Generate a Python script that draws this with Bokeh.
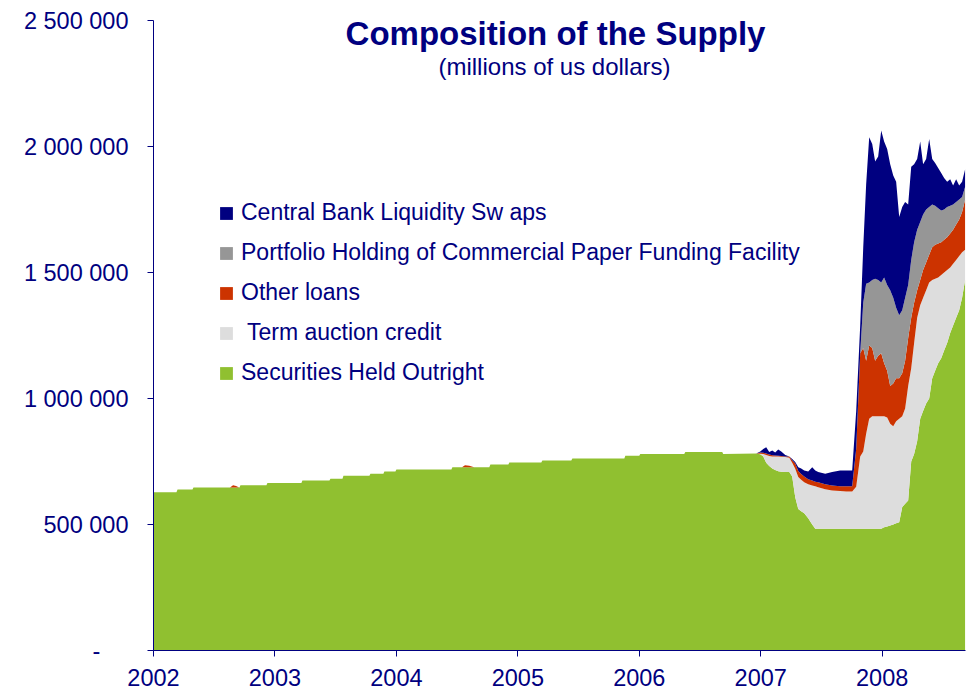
from bokeh.plotting import figure
from bokeh.models import ColumnDataSource, Legend, LegendItem, Label, FixedTicker, Range1d
from bokeh.embed import file_html
from bokeh.resources import INLINE

# ---- data (values in thousands of millions of US dollars) ----
years = [
    2002.000, 2002.189, 2002.198, 2002.321, 2002.329, 2002.630, 2002.655, 2002.680,
    2002.705, 2002.708, 2002.716, 2002.930, 2002.938, 2003.218, 2003.226, 2003.449,
    2003.457, 2003.556, 2003.564, 2003.778, 2003.786, 2003.893, 2003.901, 2003.992,
    2004.000, 2004.453, 2004.461, 2004.540, 2004.565, 2004.600, 2004.640, 2004.765,
    2004.774, 2004.922, 2004.930, 2005.193, 2005.202, 2005.440, 2005.449, 2005.877,
    2005.885, 2006.000, 2006.008, 2006.370, 2006.379, 2006.683, 2006.691, 2006.963,
    2006.996, 2007.021, 2007.045, 2007.070, 2007.095, 2007.119, 2007.144, 2007.169,
    2007.202, 2007.235, 2007.259, 2007.284, 2007.309, 2007.333, 2007.358, 2007.391,
    2007.424, 2007.449, 2007.473, 2007.531, 2007.588, 2007.654, 2007.704, 2007.753,
    2007.786, 2007.819, 2007.844, 2007.868, 2007.893, 2007.918, 2007.942, 2007.967,
    2007.992, 2008.016, 2008.041, 2008.066, 2008.091, 2008.115, 2008.140, 2008.165,
    2008.189, 2008.214, 2008.239, 2008.263, 2008.288, 2008.313, 2008.337, 2008.362,
    2008.387, 2008.412, 2008.436, 2008.461, 2008.486, 2008.510, 2008.535, 2008.560,
    2008.584, 2008.609, 2008.634, 2008.658, 2008.683,
]

securities_held_outright = [
    628, 628, 639, 639, 647, 647, 647, 647,
    647, 647, 656, 656, 665, 665, 675, 675,
    682, 682, 693, 693, 701, 701, 710, 710,
    718, 718, 727, 727, 727, 727, 727, 727,
    738, 738, 746, 746, 754, 754, 762, 762,
    773, 773, 780, 780, 788, 788, 780, 782,
    779, 770, 745, 732, 722, 716, 711, 709,
    708, 708, 690, 608, 562, 553, 545, 525,
    500, 483, 483, 483, 483, 483, 483, 483,
    483, 483, 483, 483, 483, 483, 483, 483,
    483, 489, 492, 496, 500, 505, 509, 569,
    582, 595, 750, 780, 830, 920, 950, 980,
    1000, 1080, 1110, 1140, 1160, 1190, 1220, 1260,
    1290, 1320, 1350, 1400, 1470,
]

term_auction_credit = [
    0, 0, 0, 0, 0, 0, 0, 0,
    0, 0, 0, 0, 0, 0, 0, 0,
    0, 0, 0, 0, 0, 0, 0, 0,
    0, 0, 0, 0, 0, 0, 0, 0,
    0, 0, 0, 0, 0, 0, 0, 0,
    0, 0, 0, 0, 0, 0, 0, 0,
    2, 10, 31, 40, 48, 54, 59, 60,
    60, 57, 55, 113, 126, 125, 123, 135,
    155, 169, 165, 157, 152, 150, 148, 148,
    167, 287, 307, 377, 437, 447, 447, 447,
    447, 441, 433, 404, 390, 405, 411, 361,
    378, 455, 370, 440, 490, 450, 450, 450,
    460, 390, 365, 340, 330, 310, 290, 260,
    245, 230, 215, 180, 120,
]

other_loans = [
    0, 0, 0, 0, 0, 0, 9, 6,
    0, 0, 0, 0, 0, 0, 0, 0,
    0, 0, 0, 0, 0, 0, 0, 0,
    0, 0, 0, 0, 8, 6, 0, 0,
    0, 0, 0, 0, 0, 0, 0, 0,
    0, 0, 0, 0, 0, 0, 0, 0,
    5, 5, 6, 6, 5, 4, 3, 3,
    2, 5, 10, 21, 24, 22, 22, 20,
    20, 18, 20, 20, 20, 19, 21, 21,
    150, 410, 410, 290, 290, 270, 220, 240,
    250, 210, 185, 150, 170, 170, 160, 170,
    190, 190, 200, 160, 110, 100, 110, 110,
    110, 130, 135, 135, 130, 130, 130, 135,
    135, 140, 145, 160, 200,
]

commercial_paper = [
    0, 0, 0, 0, 0, 0, 0, 0,
    0, 0, 0, 0, 0, 0, 0, 0,
    0, 0, 0, 0, 0, 0, 0, 0,
    0, 0, 0, 0, 0, 0, 0, 0,
    0, 0, 0, 0, 0, 0, 0, 0,
    0, 0, 0, 0, 0, 0, 0, 0,
    0, 0, 0, 0, 0, 0, 0, 0,
    0, 0, 0, 0, 0, 0, 0, 0,
    0, 0, 0, 0, 0, 0, 0, 0,
    0, 0, 180, 305, 250, 270, 325, 300,
    280, 340, 340, 380, 340, 280, 250, 250,
    250, 210, 230, 240, 240, 230, 220, 210,
    190, 170, 155, 140, 126, 120, 120, 110,
    100, 90, 80, 60, 50,
]

liquidity_swaps = [
    0, 0, 0, 0, 0, 0, 0, 0,
    0, 0, 0, 0, 0, 0, 0, 0,
    0, 0, 0, 0, 0, 0, 0, 0,
    0, 0, 0, 0, 0, 0, 0, 0,
    0, 0, 0, 0, 0, 0, 0, 0,
    0, 0, 0, 0, 0, 0, 0, 0,
    4, 15, 25, 10, 19, 12, 25, 18,
    6, 0, 5, 6, 15, 22, 24, 30,
    52, 44, 40, 41, 53, 62, 62, 62,
    150, 110, 220, 395, 577, 540, 465, 490,
    603, 540, 540, 500, 485, 500, 390, 410,
    380, 320, 370, 310, 280, 320, 200, 200,
    270, 180, 170, 160, 149, 125, 100, 105,
    75, 90, 55, 60, 70,
]

series_labels = [
    "Securities Held Outright",
    " Term auction credit",
    "Other loans",
    "Portfolio Holding of Commercial Paper Funding Facility",
    "Central Bank Liquidity Sw aps",
]
series_colors = ["#90c030", "#dddddd", "#cc3300", "#969696", "#000080"]

y_ticks = [0, 500000, 1000000, 1500000, 2000000, 2500000]
y_tick_labels = ["-\u2007\u2007\u200a", "500 000", "1 000 000", "1 500 000", "2 000 000", "2 500 000"]
x_ticks = [2002, 2003, 2004, 2005, 2006, 2007, 2008]
x_tick_labels = ["2002", "2003", "2004", "2005", "2006", "2007", "2008"]

title_text = "Composition of the Supply"
subtitle_text = "(millions of us dollars)"

# ---- build ----
NAVY = "#000080"
FONT = "Liberation Sans"

keys = ["soma", "tac", "ol", "cpff", "cbls"]
raw = [securities_held_outright, term_auction_credit, other_loans, commercial_paper, liquidity_swaps]
data = {"x": years}
for k, vals in zip(keys, raw):
    data[k] = [v * 1000 for v in vals]
src = ColumnDataSource(data)

p = figure(frame_width=812, frame_height=630,
           x_range=Range1d(2002.0, 2008.686), y_range=Range1d(0, 2500000),
           output_backend="svg", toolbar_location=None,
           min_border_left=153, min_border_right=6, min_border_top=20, min_border_bottom=46)
p.outline_line_color = None
p.grid.visible = False
p.background_fill_color = "white"

rends = p.varea_stack(stackers=keys, x="x", color=series_colors, source=src)

items = [LegendItem(label=series_labels[i], renderers=[rends[i]]) for i in reversed(range(5))]
legend = Legend(items=items, location=(65, 264), glyph_width=16, glyph_height=16,
                label_standoff=7, spacing=13, padding=0, margin=0,
                border_line_color=None, background_fill_alpha=0,
                label_text_font=FONT, label_text_font_size="23px", label_text_color=NAVY)
p.add_layout(legend)

for ax in (p.xaxis[0], p.yaxis[0]):
    ax.axis_line_color = NAVY
    ax.major_tick_line_color = NAVY
    ax.major_tick_in = 0
    ax.major_tick_out = 6
    ax.minor_tick_in = 0
    ax.minor_tick_out = 0
    ax.major_label_text_font = FONT
    ax.major_label_text_font_size = "23.5px"
    ax.major_label_text_color = NAVY

p.yaxis.ticker = FixedTicker(ticks=y_ticks)
p.yaxis.major_label_overrides = {t: s for t, s in zip(y_ticks, y_tick_labels)}
p.yaxis.major_label_standoff = 19
p.xaxis.ticker = FixedTicker(ticks=x_ticks)
p.xaxis.major_label_overrides = {t: s for t, s in zip(x_ticks, x_tick_labels)}
p.xaxis.major_label_standoff = 12

p.add_layout(Label(x=402, y=617, x_units="screen", y_units="screen", text=title_text,
                   text_align="center", text_baseline="alphabetic", text_font=FONT,
                   text_font_size="33px", text_font_style="bold", text_color=NAVY))
p.add_layout(Label(x=401, y=584, x_units="screen", y_units="screen", text=subtitle_text,
                   text_align="center", text_baseline="alphabetic", text_font=FONT,
                   text_font_size="24px", text_color=NAVY))

open("out.html", "w").write(file_html(p, INLINE))
